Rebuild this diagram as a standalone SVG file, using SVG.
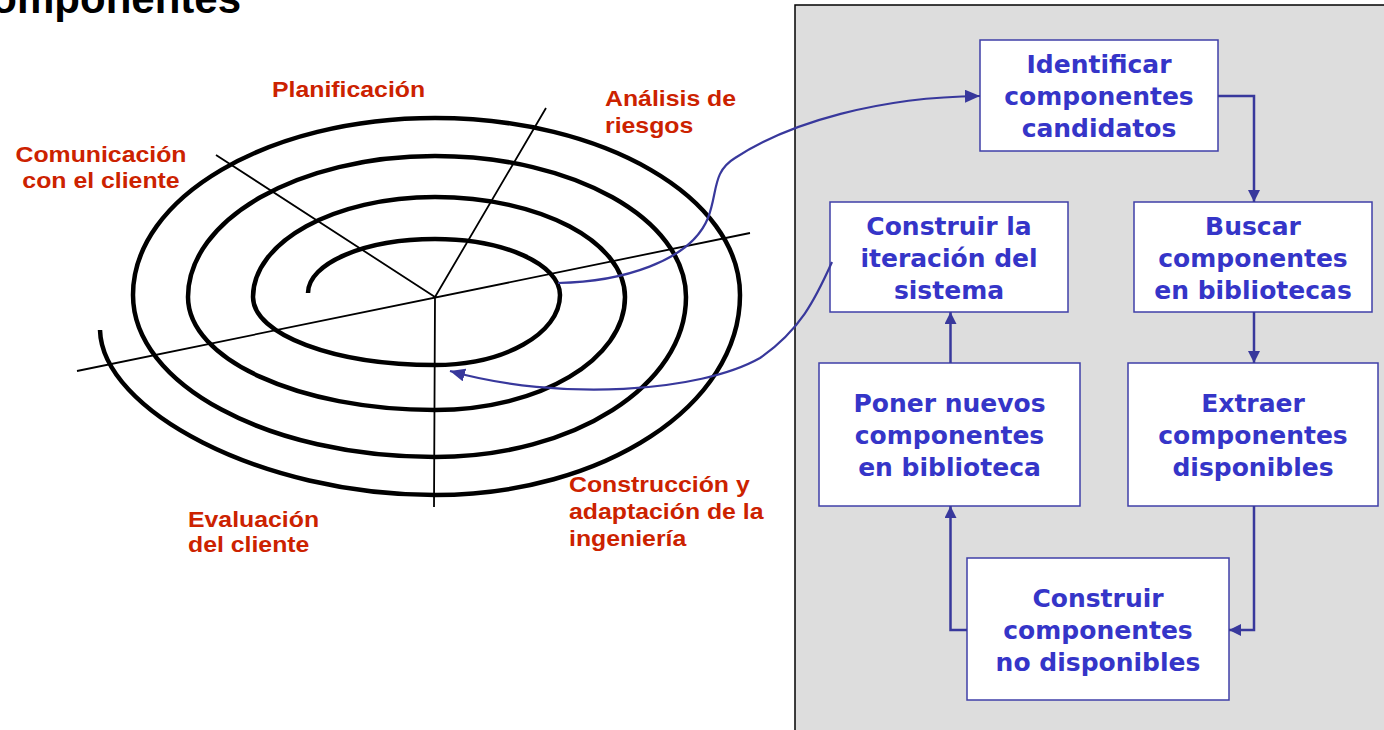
<svg xmlns="http://www.w3.org/2000/svg" width="1384" height="730" viewBox="0 0 1384 730">
<style>
.title{font-family:"Liberation Sans",Arial,sans-serif;font-weight:bold;font-size:42px;fill:#000}
.lbl{font-family:"Liberation Sans",Arial,sans-serif;font-weight:bold;font-size:21.5px;fill:#cc2200}
.box rect{fill:#ffffff;stroke:#3f3fa8;stroke-width:1.5}
.box text{font-family:"DejaVu Sans",Verdana,sans-serif;font-weight:bold;font-size:25px;fill:#3535c8;text-anchor:middle}
.spiral{fill:none;stroke:#000;stroke-width:4.5}
.radial{stroke:#000;stroke-width:1.8;fill:none}
.conn{fill:none;stroke:#38389c;stroke-width:2.5}
.curve{fill:none;stroke:#38389c;stroke-width:2.2}
</style>
<defs>
<marker id="ah" markerUnits="userSpaceOnUse" markerWidth="13" markerHeight="13" refX="12" refY="6" orient="auto">
<path d="M0,0 L12,6 L0,12 z" fill="#38389c"/>
</marker>
<marker id="ahc" markerUnits="userSpaceOnUse" markerWidth="16" markerHeight="14" refX="15" refY="6.5" orient="auto">
<path d="M0,0 L15,6.5 L0,13 z" fill="#38389c"/>
</marker>
</defs>
<rect width="1384" height="730" fill="#ffffff"/>
<text class="title" x="-32" y="13">componentes</text>

<g id="spiral-model">
<path class="radial" d="M77,371 L750,233 M216,155 L435,297 M546,108 L435,297 M435,297 L434,507"/>
<path class="spiral" d="M308,293 C308,263.2 364.9,239 435,239 C504,239 560,264.1 560,295 C560,333.7 504,365 435,365 C334.5,365 253,334.6 253,297 C253,241.8 334.5,197 435,197 C539.9,197 625,241.8 625,297 C625,359.4 539.9,410 435,410 C298.6,410 188,359.4 188,297 C188,219.1 298.6,156 435,156 C573.6,156 686,219.1 686,297 C686,385.4 573.6,457 435,457 C268.2,457 133,384.5 133,295 C133,197.2 268.2,118 435,118 C603.4,118 740,197.2 740,295 C740,405.5 603.4,495 435,495 C260,495 102,410 100,330"/>
</g>

<g id="labels">
<text class="lbl" transform="matrix(1.155 0 0 1 272 97)">Planificación</text>
<text class="lbl" text-anchor="middle" transform="matrix(1.155 0 0 1 101 162)"><tspan x="0" y="0">Comunicación</tspan><tspan x="0" y="26.5">con el cliente</tspan></text>
<text class="lbl" transform="matrix(1.155 0 0 1 605 106)"><tspan x="0" y="0">Análisis de</tspan><tspan x="0" y="27">riesgos</tspan></text>
<text class="lbl" transform="matrix(1.155 0 0 1 188 526.5)"><tspan x="0" y="0">Evaluación</tspan><tspan x="0" y="26">del cliente</tspan></text>
<text class="lbl" transform="matrix(1.155 0 0 1 569 492)"><tspan x="0" y="0">Construcción y</tspan><tspan x="0" y="27">adaptación de la</tspan><tspan x="0" y="54">ingeniería</tspan></text>
</g>

<rect id="panel" x="795" y="5" width="620" height="760" fill="#dddddd" stroke="#000" stroke-width="1.5"/>

<g id="identificar" class="box">
<rect x="980" y="40" width="238" height="111"/>
<text x="1099" y="73">Identificar</text>
<text x="1099" y="105">componentes</text>
<text x="1099" y="137">candidatos</text>
</g>
<g id="buscar" class="box">
<rect x="1134" y="202" width="238" height="110"/>
<text x="1253" y="235">Buscar</text>
<text x="1253" y="267">componentes</text>
<text x="1253" y="299">en bibliotecas</text>
</g>
<g id="construir-iteracion" class="box">
<rect x="830" y="202" width="238" height="110"/>
<text x="949" y="235">Construir la</text>
<text x="949" y="267">iteración del</text>
<text x="949" y="299">sistema</text>
</g>
<g id="poner" class="box">
<rect x="819" y="363" width="261" height="143"/>
<text x="949.5" y="412">Poner nuevos</text>
<text x="949.5" y="444">componentes</text>
<text x="949.5" y="476">en biblioteca</text>
</g>
<g id="extraer" class="box">
<rect x="1128" y="363" width="250" height="143"/>
<text x="1253" y="412">Extraer</text>
<text x="1253" y="444">componentes</text>
<text x="1253" y="476">disponibles</text>
</g>
<g id="construir-componentes" class="box">
<rect x="967" y="558" width="262" height="142"/>
<text x="1098" y="607">Construir</text>
<text x="1098" y="639">componentes</text>
<text x="1098" y="671">no disponibles</text>
</g>

<g id="connectors">
<path class="conn" marker-end="url(#ah)" d="M1218,96 H1254 V202"/>
<path class="conn" marker-end="url(#ah)" d="M1254,312 V363"/>
<path class="conn" marker-end="url(#ah)" d="M1254,506 V630 H1229"/>
<path class="conn" marker-end="url(#ah)" d="M967,630 H950.5 V506"/>
<path class="conn" marker-end="url(#ah)" d="M950.5,363 V312"/>
<path class="curve" marker-end="url(#ahc)" d="M558,283 C620,282 690,262 708,218 C718,192 712,172 735,158 C790,122 880,97 980,96"/>
<path class="curve" marker-end="url(#ahc)" d="M832,262 C815,300 800,330 760,358 C700,392 560,402 450,371"/>
</g>
</svg>
